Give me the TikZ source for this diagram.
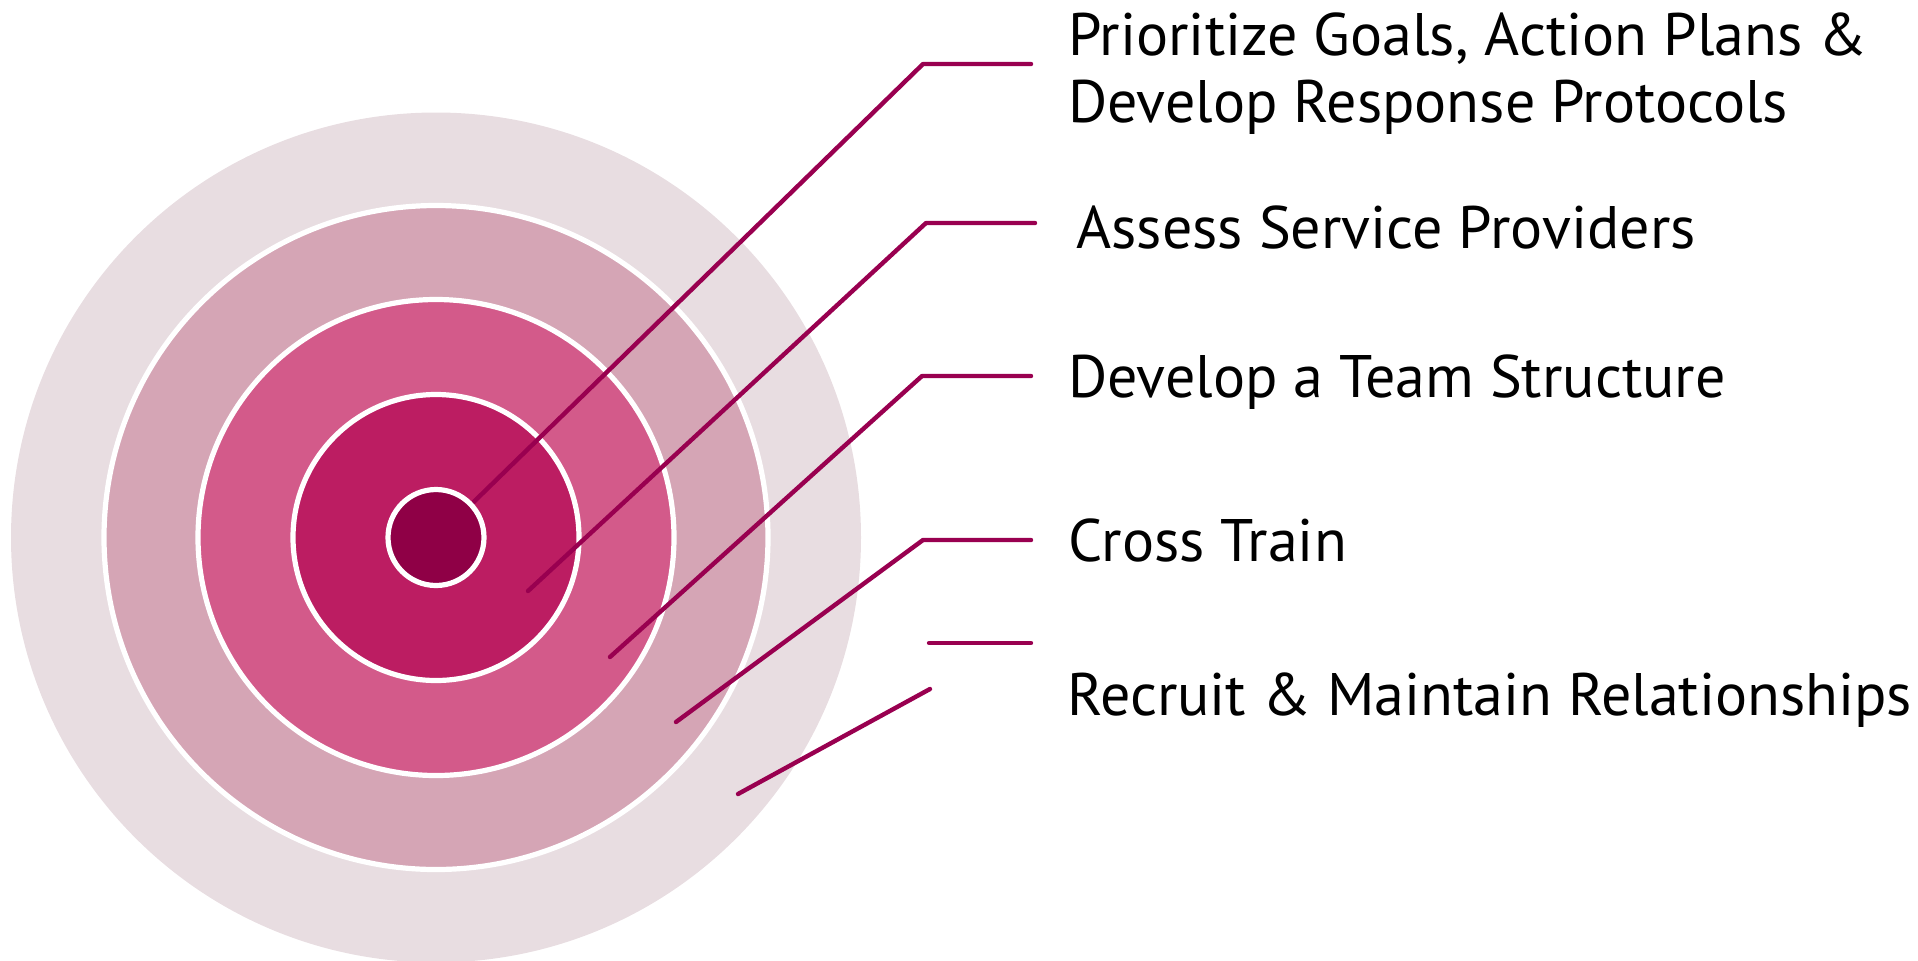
\documentclass[tikz,border=0pt]{standalone}
\usepackage{fontspec}
\setmainfont{PT Sans}
\definecolor{ringA}{HTML}{E8DDE1}
\definecolor{ringB}{HTML}{D5A5B5}
\definecolor{ringC}{HTML}{D35A8A}
\definecolor{ringD}{HTML}{BC1D62}
\definecolor{core}{HTML}{8F0046}
\definecolor{leadred}{HTML}{990050}
\begin{document}
\begin{tikzpicture}[x=0.5pt,y=-0.5pt,
    lead/.style={draw=leadred, line width=2.2pt, line cap=round, line join=round},
    rim/.style={draw=white, line width=2.6pt},
    label/.style={anchor=base west, inner sep=0pt, align=left,
      font=\fontsize{30}{33.5}\selectfont}]
    \useasboundingbox (0,0) rectangle (1918,960);

    \coordinate (c) at (436,537.5);
    \fill[ringA] (c) circle (212.5pt);
    \filldraw[fill=ringB, rim] (c) circle (166pt);
    \filldraw[fill=ringC, rim] (c) circle (119pt);
    \filldraw[fill=ringD, rim] (c) circle (71.5pt);

    \node[label] (t1) at (1068,122) {Prioritize Goals, Action Plans \&\\Develop Response Protocols};
    \node[label] (t2) at (1076,248) {Assess Service Providers};
    \node[label] (t3) at (1068,397) {Develop a Team Structure};
    \node[label] (t4) at (1068,561) {Cross Train};
    \node[label] (t5) at (1067,715) {Recruit \& Maintain Relationships};

    \coordinate (p1) at (448,527);   \coordinate (k1) at (923,64);  \coordinate (h1) at (1031,64);
    \coordinate (p2) at (528,591);   \coordinate (k2) at (926,223); \coordinate (h2) at (1035,223);
    \coordinate (p3) at (610,657);   \coordinate (k3) at (922,376); \coordinate (h3) at (1031,376);
    \coordinate (p4) at (676,722);   \coordinate (k4) at (923,540); \coordinate (h4) at (1031,540);
    \coordinate (p5) at (738,794);   \coordinate (k5) at (930,689);
    \coordinate (k6) at (929,643);   \coordinate (h6) at (1031,643);

    \draw[lead] (p1) -- (k1) -- (h1);
    \draw[lead] (p2) -- (k2) -- (h2);
    \draw[lead] (p3) -- (k3) -- (h3);
    \draw[lead] (p4) -- (k4) -- (h4);
    \draw[lead] (p5) -- (k5);
    \draw[lead] (k6) -- (h6);

    \filldraw[fill=core, rim] (c) circle (24pt);
\end{tikzpicture}
\end{document}
